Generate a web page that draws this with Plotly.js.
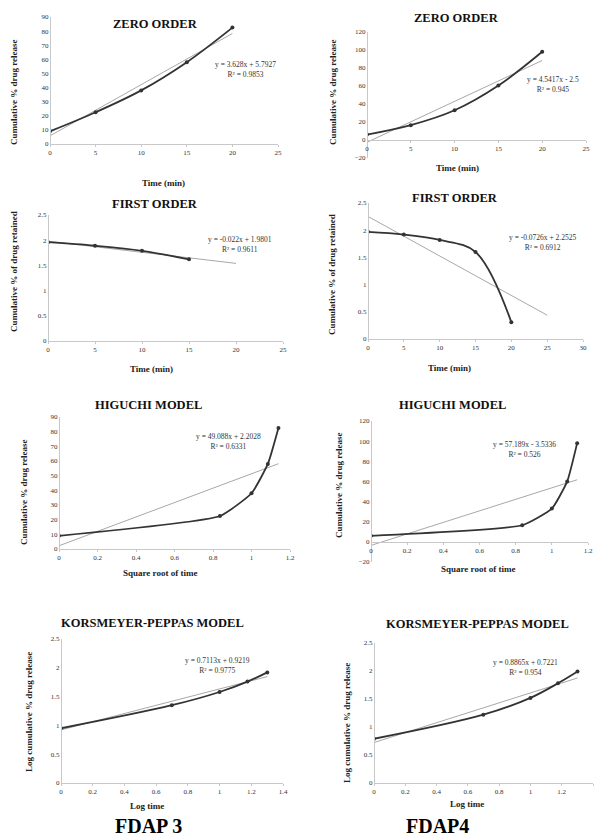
<!DOCTYPE html>
<html>
<head>
<meta charset="utf-8">
<script src="https://cdn.plot.ly/plotly-3.0.1.min.js"></script>
<style>
html,body{margin:0;padding:0;background:#fff;}
#chart{width:595px;height:838px;}
</style>
</head>
<body>
<div id="chart"></div>
<script>
// ---------- DATA ----------
const timeMin = [0, 5, 10, 15, 20];
const timeMinF3First = [0, 5, 10, 15];
const zeroOrderF3 = [9, 22.5, 38, 58, 82.5];
const zeroOrderF4 = [6, 16.5, 33, 60.5, 98];
const firstOrderF3 = [1.96, 1.89, 1.79, 1.62];
const firstOrderF4 = [1.97, 1.92, 1.82, 1.6, 0.31];
const sqrtTime = [0, 0.836, 1, 1.085, 1.14];
const higuchiF3 = [9, 22.5, 38, 58, 82.5];
const higuchiF4 = [6, 16.5, 33, 60, 98];
const logTime = [0, 0.699, 1, 1.176, 1.301];
const kpF3 = [0.95, 1.35, 1.58, 1.76, 1.92];
const kpF4 = [0.79, 1.22, 1.52, 1.78, 1.99];

// trendline equations (as printed) and extents
const trendSlope     = [3.628, 4.5417, -0.022, -0.0726, 49.088, 57.189, 0.7113, 0.8865];
const trendIntercept = [5.7927, -2.5, 1.9801, 2.2525, 2.2028, -3.5336, 0.9219, 0.7221];
const trendXEnd      = [20, 20, 20, 25, 1.14, 1.14, 1.301, 1.301];
const eqLabels = ["y = 3.628x + 5.7927", "y = 4.5417x - 2.5", "y = -0.022x + 1.9801", "y = -0.0726x + 2.2525",
                  "y = 49.088x + 2.2028", "y = 57.189x - 3.5336", "y = 0.7113x + 0.9219", "y = 0.8865x + 0.7221"];
const r2Labels = ["R² = 0.9853", "R² = 0.945", "R² = 0.9611", "R² = 0.6912",
                  "R² = 0.6331", "R² = 0.526", "R² = 0.9775", "R² = 0.954"];
const panelTitles = ["ZERO ORDER", "ZERO ORDER", "FIRST ORDER", "FIRST ORDER",
                     "HIGUCHI MODEL", "HIGUCHI MODEL", "KORSMEYER-PEPPAS MODEL", "KORSMEYER-PEPPAS MODEL"];
const xTitles = ["Time (min)", "Time (min)", "Time (min)", "Time (min)",
                 "Square root of time", "Square root of time", "Log time", "Log time"];
const yTitles = ["Cumulative % drug release", "Cumulative % drug release",
                 "Cumulative % of drug retained", "Cumulative % of drug retained",
                 "Cumulative % drug release", "Cumulative % drug release",
                 "Log cumulative % drug release", "Log cumulative % drug release"];
const formulationLabels = ["FDAP 3", "FDAP4"];

const seriesX = [timeMin, timeMin, timeMinF3First, timeMin, sqrtTime, sqrtTime, logTime, logTime];
const seriesY = [zeroOrderF3, zeroOrderF4, firstOrderF3, firstOrderF4, higuchiF3, higuchiF4, kpF3, kpF4];

// ---------- LAYOUT (pixel geometry) ----------
const W = 595, H = 838;
const fx = p => p / W;
const fy = p => 1 - p / H;
// [left, right, xmin, xmax, dtick, topPx, bottomPx, ymin, ymax, ydtick]
const geo = [
  [50, 278, 0, 25, 5, 17, 144, 0, 90, 10],
  [367, 586, 0, 25, 5, 32, 158, -20, 120, 20],
  [48, 283, 0, 25, 5, 215, 341, 0, 2.5, 0.5],
  [368, 583, 0, 30, 5, 203, 339, 0, 2.5, 0.5],
  [59, 290, 0, 1.2, 0.2, 417, 549, 0, 90, 10],
  [371, 588, 0, 1.2, 0.2, 421, 562, -20, 120, 20],
  [61, 283, 0, 1.4, 0.2, 639, 783, 0, 2.5, 0.5],
  [374, 593, 0, 1.4, 0.2, 643, 783, 0, 2.5, 0.5]
];
// [titleX, titleY, xTitleX, xTitleY, yTitleX, yTitleY, eqX, eqY]
const textPos = [
  [155, 24, 163, 183, 14, 92, 245, 58],
  [456, 18, 457, 168, 333, 92, 553, 73],
  [155, 204, 151, 369, 14, 272, 240, 233],
  [455, 198, 449, 368, 332, 275, 542, 231],
  [148, 405, 160, 573, 24, 492, 228, 430],
  [452, 405, 478, 569, 339, 485, 524, 438],
  [153, 623, 147, 806, 29, 712, 217, 654],
  [477, 624, 467, 804, 347, 723, 525, 656]
];

const serif = "Liberation Serif, Times New Roman, serif";
const traces = [];
const layout = {
  width: W, height: H,
  margin: {l: 0, r: 0, t: 0, b: 0},
  paper_bgcolor: "#fff", plot_bgcolor: "rgba(0,0,0,0)",
  showlegend: false,
  font: {family: serif, color: "#222"},
  annotations: []
};

for (let i = 0; i < 8; i++) {
  const n = i + 1;
  const xa = n === 1 ? "x" : "x" + n;
  const ya = n === 1 ? "y" : "y" + n;
  const g = geo[i];
  const yDom = [fy(g[6]), fy(g[5])];
  const zeroPx = g[6] - (0 - g[7]) / (g[8] - g[7]) * (g[6] - g[5]);
  const xaxis = {
    domain: [fx(g[0]), fx(g[1])],
    range: [g[2], g[3]], dtick: g[4], tick0: 0,
    showgrid: false, zeroline: false,
    showline: true, linecolor: "#c8c8c8", linewidth: 1,
    ticks: "outside", ticklen: 2, tickcolor: "#c8c8c8",
    tickfont: {family: serif, size: 7, color: "#333"},
    anchor: "free", position: fy(zeroPx)
  };
  const yaxis = {
    domain: yDom,
    range: [g[7], g[8]], dtick: g[9], tick0: 0,
    showgrid: false, zeroline: false,
    showline: true, linecolor: "#c8c8c8", linewidth: 1,
    ticks: "", tickfont: {family: serif, size: 7, color: "#333"},
    anchor: "free", position: fx(g[0])
  };
  layout["xaxis" + (n === 1 ? "" : n)] = xaxis;
  layout["yaxis" + (n === 1 ? "" : n)] = yaxis;

  // trendline
  traces.push({
    x: [0, trendXEnd[i]],
    y: [trendIntercept[i], trendIntercept[i] + trendSlope[i] * trendXEnd[i]],
    xaxis: xa, yaxis: ya, mode: "lines",
    line: {color: "#a8a8a8", width: 1}, hoverinfo: "skip"
  });
  // data series
  const smooth = (i === 4 || i === 5) ? 0.45 : 1;
  traces.push({
    x: seriesX[i], y: seriesY[i],
    xaxis: xa, yaxis: ya, mode: "lines+markers",
    line: {color: "#333", width: 1.8, shape: "spline", smoothing: smooth},
    marker: {color: "#333", size: 4}
  });

  const t = textPos[i];
  layout.annotations.push(
    {xref: "paper", yref: "paper", x: fx(t[0]), y: fy(t[1]), text: "<b>" + panelTitles[i] + "</b>",
     showarrow: false, xanchor: "center", yanchor: "middle", font: {family: serif, size: 12.5, color: "#111"}},
    {xref: "paper", yref: "paper", x: fx(t[2]), y: fy(t[3]), text: "<b>" + xTitles[i] + "</b>",
     showarrow: false, xanchor: "center", yanchor: "middle", font: {family: serif, size: 9, color: "#222"}},
    {xref: "paper", yref: "paper", x: fx(t[4]), y: fy(t[5]), text: "<b>" + yTitles[i] + "</b>",
     showarrow: false, xanchor: "center", yanchor: "middle", textangle: -90, font: {family: serif, size: 9, color: "#222"}},
    {xref: "paper", yref: "paper", x: fx(t[6]), y: fy(t[7]), text: eqLabels[i] + "<br>" + r2Labels[i],
     showarrow: false, xanchor: "center", yanchor: "top", align: "center", font: {family: serif, size: 7.5, color: "#333"}}
  );
}

layout.annotations.push(
  {xref: "paper", yref: "paper", x: fx(148), y: fy(826), text: "<b>" + formulationLabels[0] + "</b>",
   showarrow: false, xanchor: "center", yanchor: "middle", font: {family: serif, size: 20, color: "#000"}},
  {xref: "paper", yref: "paper", x: fx(437), y: fy(826), text: "<b>" + formulationLabels[1] + "</b>",
   showarrow: false, xanchor: "center", yanchor: "middle", font: {family: serif, size: 20, color: "#000"}}
);

Plotly.newPlot("chart", traces, layout, {staticPlot: true, displayModeBar: false});
</script>
</body>
</html>
